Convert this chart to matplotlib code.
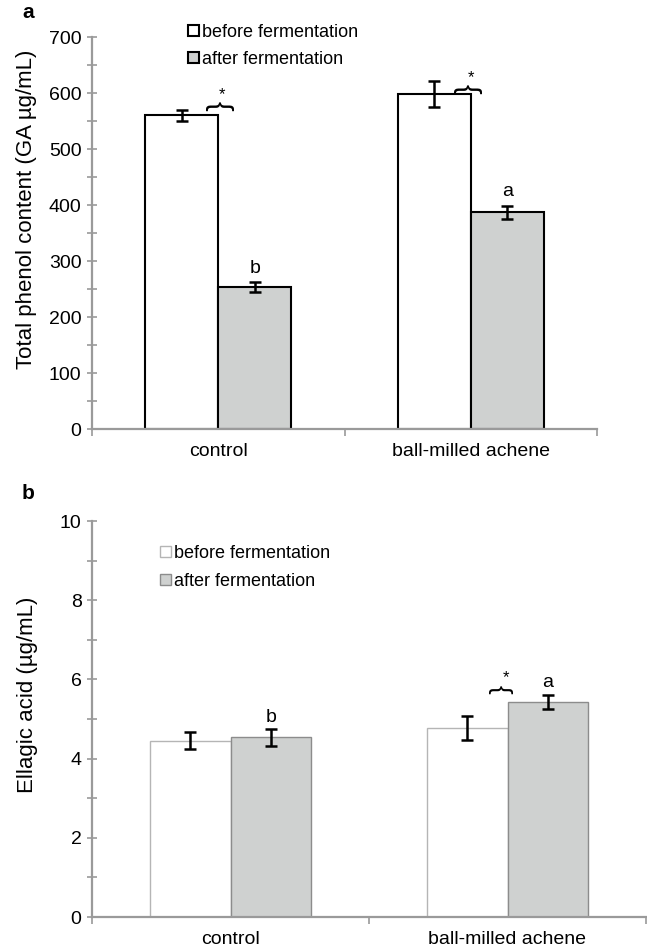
import numpy as np
import matplotlib.pyplot as plt
from matplotlib.ticker import MultipleLocator

plt.rcParams['font.family'] = ['Liberation Sans', 'DejaVu Sans']

# datos
categorias = ['control', 'ball-milled achene']
series = ['before fermentation', 'after fermentation']

fenol_antes = [560, 598]
fenol_antes_err = [10, 23]
fenol_despues = [253, 387]
fenol_despues_err = [9, 12]
fenol_letras = ['b', 'a']

elagico_antes = [4.45, 4.77]
elagico_antes_err = [0.21, 0.30]
elagico_despues = [4.54, 5.43]
elagico_despues_err = [0.21, 0.18]
elagico_letras = ['b', 'a']

GRIS_EJE = '#9a9a9a'
GRIS_BARRA = '#cfd1d0'
ancho = 0.29

fig = plt.figure(figsize=(6.47, 9.52), dpi=100)
W, H = 647, 952


def crear_ejes(x0, x1, y_top, y_bot):
    return fig.add_axes([x0 / W, 1 - y_bot / H, (x1 - x0) / W, (y_bot - y_top) / H])


def estilo_ejes(ax, ymax, paso, paso_menor):
    for lado in ['top', 'right']:
        ax.spines[lado].set_visible(False)
    for lado in ['left', 'bottom']:
        ax.spines[lado].set_color(GRIS_EJE)
        ax.spines[lado].set_linewidth(1.6)
    ax.set_xlim(-0.5, 1.5)
    ax.set_ylim(0, ymax)
    ax.yaxis.set_major_locator(MultipleLocator(paso))
    ax.yaxis.set_minor_locator(MultipleLocator(paso_menor))
    ax.tick_params(axis='y', which='both', direction='inout', length=7,
                   width=1.2, color=GRIS_EJE, labelsize=14, pad=4)
    ax.set_xticks([-0.5, 0.5, 1.5])
    ax.set_xticklabels([])
    ax.set_xticks([0, 1], minor=True)
    ax.set_xticklabels(categorias, minor=True)
    ax.tick_params(axis='x', which='major', direction='out', length=5,
                   width=1.2, color=GRIS_EJE)
    ax.tick_params(axis='x', which='minor', length=0, labelsize=14, pad=10)


def graficar_panel(ax, antes, antes_err, despues, despues_err,
                   borde_antes, borde_despues, lw_borde, capsize):
    x = np.arange(len(categorias))
    kw_err = dict(ecolor='black', elinewidth=1.8, capsize=capsize, capthick=1.8)
    ax.bar(x - ancho / 2, antes, ancho, yerr=antes_err, color='white',
           edgecolor=borde_antes, linewidth=lw_borde, label=series[0],
           error_kw=kw_err)
    ax.bar(x + ancho / 2, despues, ancho, yerr=despues_err, color=GRIS_BARRA,
           edgecolor=borde_despues, linewidth=lw_borde, label=series[1],
           error_kw=kw_err)


# ---------------- panel a ----------------
ax1 = crear_ejes(92, 597, 37, 429)
estilo_ejes(ax1, 700, 100, 50)
graficar_panel(ax1, fenol_antes, fenol_antes_err, fenol_despues, fenol_despues_err,
               'black', 'black', 1.5, 4)
ax1.set_ylabel('Total phenol content (GA µg/mL)', fontsize=16)
ax1.yaxis.set_label_coords(-0.108, 0.56)

# llaves con asterisco (diferencia significativa)
llave_a = [577, 608]
llave_a_dx = [0.0, -0.015]
for i in range(len(categorias)):
    ax1.text(i + llave_a_dx[i], llave_a[i], '{', rotation=-90, ha='center',
             va='center', fontsize=21)
    ax1.text(i + llave_a_dx[i] + 0.015, llave_a[i] + 20, '*', ha='center',
             va='center', fontsize=12)
for i, letra in enumerate(fenol_letras):
    ax1.text(i + ancho / 2, fenol_despues[i] + fenol_despues_err[i] + 25, letra,
             ha='center', va='center', fontsize=14)

ax1.legend(loc='upper left', bbox_to_anchor=(188 / W, 1 - 24 / H),
           bbox_transform=fig.transFigure, frameon=False, fontsize=13,
           handlelength=0.6, handleheight=0.6, handletextpad=0.2,
           labelspacing=0.55, borderpad=0, borderaxespad=0)
fig.text(22 / W, 1 - 12 / H, 'a', fontsize=15, fontweight='bold', va='center')

# ---------------- panel b ----------------
ax2 = crear_ejes(92, 646, 521, 917)
estilo_ejes(ax2, 10, 2, 1)
graficar_panel(ax2, elagico_antes, elagico_antes_err, elagico_despues,
               elagico_despues_err, '#b5b5b5', '#8c8c8c', 1.0, 4)
ax2.set_ylabel('Ellagic acid (µg/mL)', fontsize=16)
ax2.yaxis.set_label_coords(-0.097, 0.56)

ax2.text(1 - 0.03, 5.74, '{', rotation=-90, ha='center', va='center', fontsize=19)
ax2.text(1 - 0.004, 6.04, '*', ha='center', va='center', fontsize=12)
for i, letra in enumerate(elagico_letras):
    ax2.text(i + ancho / 2, elagico_despues[i] + elagico_despues_err[i] + 0.3, letra,
             ha='center', va='center', fontsize=14)

ax2.legend(loc='upper left', bbox_to_anchor=(160 / W, 1 - 545 / H),
           bbox_transform=fig.transFigure, frameon=False, fontsize=13,
           handlelength=0.6, handleheight=0.6, handletextpad=0.2,
           labelspacing=0.6, borderpad=0, borderaxespad=0)
fig.text(22 / W, 1 - 493 / H, 'b', fontsize=15, fontweight='bold', va='center')

fig.savefig('out.png', dpi=100)
